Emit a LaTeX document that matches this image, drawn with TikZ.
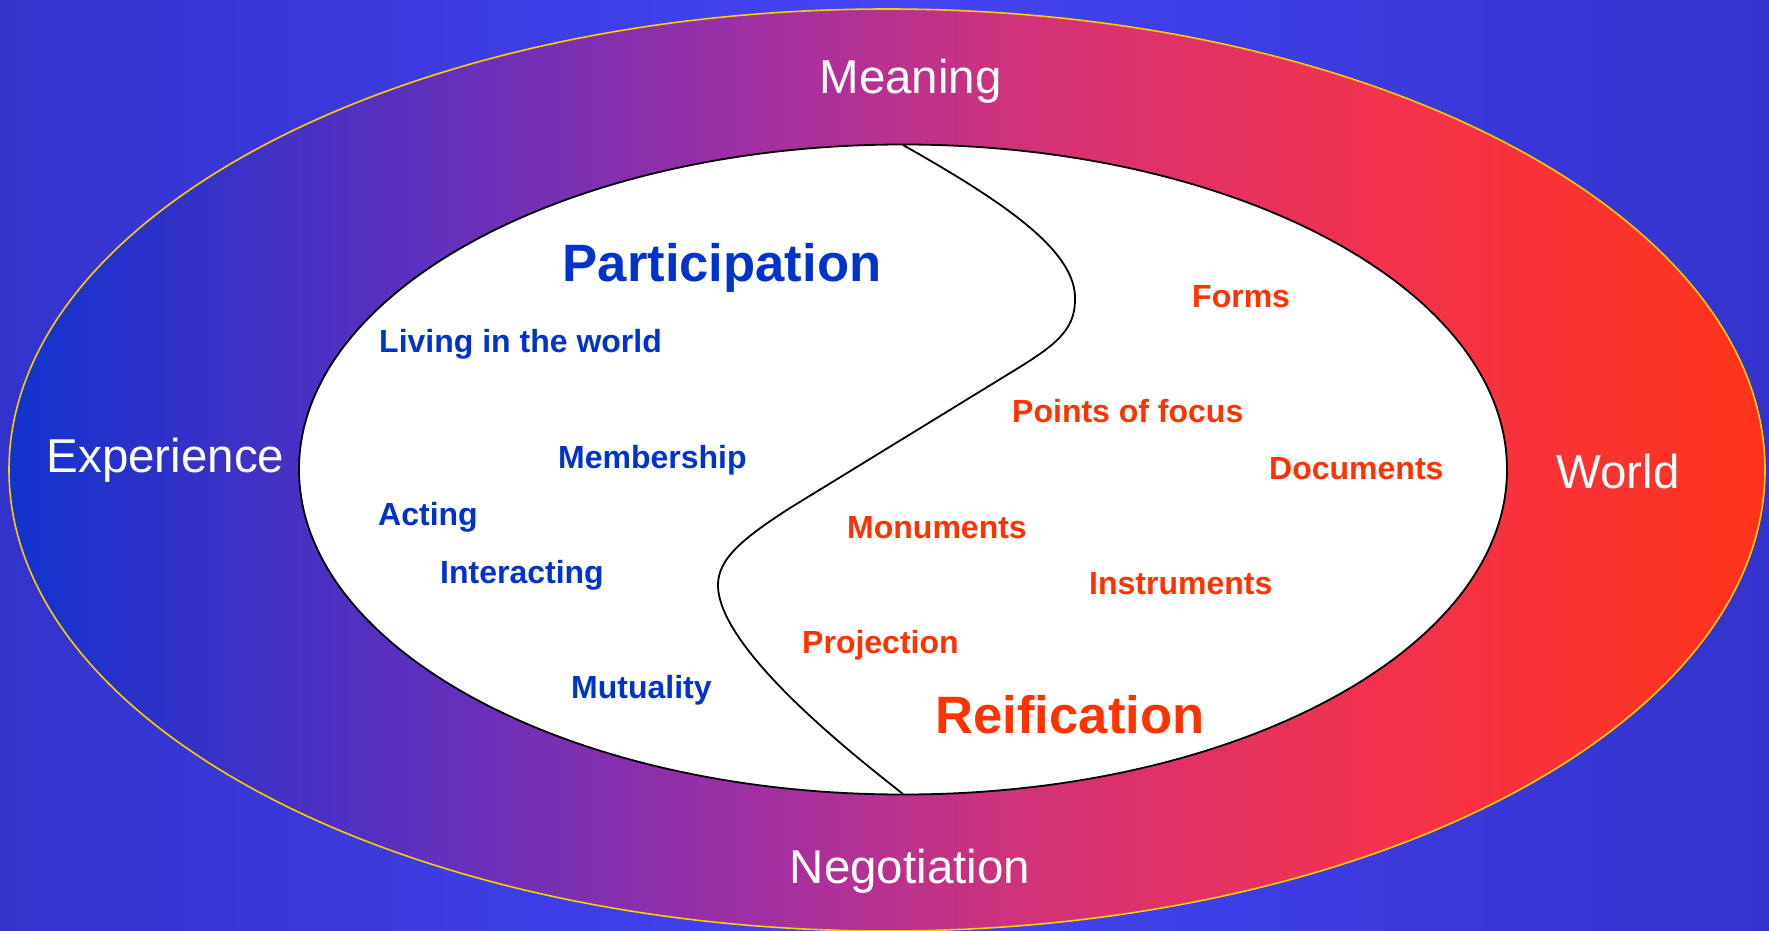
\documentclass[tikz,border=0pt]{standalone}
\usepackage{fontspec}
\setmainfont{Liberation Sans}
\definecolor{bgedge}{RGB}{51,51,204}
\definecolor{bgmid}{RGB}{68,68,245}
\definecolor{og0}{RGB}{18,50,206}
\definecolor{og1}{RGB}{90,48,192}
\definecolor{og2}{RGB}{165,48,160}
\definecolor{og3}{RGB}{210,50,120}
\definecolor{og4}{RGB}{245,50,75}
\definecolor{og5}{RGB}{255,51,25}
\definecolor{partblue}{RGB}{0,51,204}
\definecolor{reifred}{RGB}{255,51,0}
\definecolor{rimyellow}{RGB}{255,204,0}
\pgfdeclarehorizontalshading{outergrad}{100bp}{color(0bp)=(og0); color(25bp)=(og0); color(36.1bp)=(og1); color(47bp)=(og2); color(54.1bp)=(og3); color(64.6bp)=(og4); color(75bp)=(og5); color(100bp)=(og5)}
\tikzset{
  outerlabel/.style={text=white, inner sep=0pt, anchor=base, font=\fontsize{47.5}{50}\selectfont},
  ptitle/.style={text=partblue, inner sep=0pt, anchor=base, font=\bfseries\fontsize{52.6}{56}\selectfont},
  rtitle/.style={text=reifred, inner sep=0pt, anchor=base, font=\bfseries\fontsize{52.6}{56}\selectfont},
  pitem/.style={text=partblue, inner sep=0pt, anchor=base west, font=\bfseries\fontsize{32}{34}\selectfont},
  ritem/.style={text=reifred, inner sep=0pt, anchor=base west, font=\bfseries\fontsize{32}{34}\selectfont},
}
\begin{document}
\begin{tikzpicture}[x=1pt,y=-1pt]
\useasboundingbox (0,0) rectangle (1769,931);
\shade[left color=bgedge, right color=bgedge, middle color=bgmid] (0,0) rectangle (1769,931);
\shade[shading=outergrad] (887,470) ellipse [x radius=878, y radius=461];
\draw[rimyellow, line width=1.6pt] (887,470) ellipse [x radius=878, y radius=461];
\draw[fill=white, line width=1.8pt] (903,469.5) ellipse [x radius=604, y radius=325];
\coordinate (stop) at (903,145);
\coordinate (sbot) at (903,794);
\draw[line width=1.8pt] (stop) .. controls (1000,200) and (1077,250) .. (1075,300)
  .. controls (1075,330) and (1055,345.5) .. (1015,370)
  -- (790,508)
  .. controls (740,540) and (718,560) .. (718,585)
  .. controls (718,650) and (860,760) .. (sbot);
\node[outerlabel] (meaning) at (910.7,93.3) {Meaning};
\node[outerlabel] (negotiation) at (910,883) {Negotiation};
\node[outerlabel] (experience) at (165.5,472) {Experience};
\node[outerlabel] (world) at (1618,488) {World};
\node[ptitle] (participation) at (722,281.7) {Participation};
\node[rtitle] (reification) at (1070,733) {Reification};
\node[pitem] (living) at (379,352) {Living in the world};
\node[pitem] (membership) at (558,468) {Membership};
\node[pitem] (acting) at (378,525) {Acting};
\node[pitem] (interacting) at (440,583) {Interacting};
\node[pitem] (mutuality) at (571,698) {Mutuality};
\node[ritem] (forms) at (1192,307) {Forms};
\node[ritem] (points) at (1012,422) {Points of focus};
\node[ritem] (documents) at (1269,479) {Documents};
\node[ritem] (monuments) at (847,538) {Monuments};
\node[ritem] (instruments) at (1089,594) {Instruments};
\node[ritem] (projection) at (802,653) {Projection};
\end{tikzpicture}
\end{document}
